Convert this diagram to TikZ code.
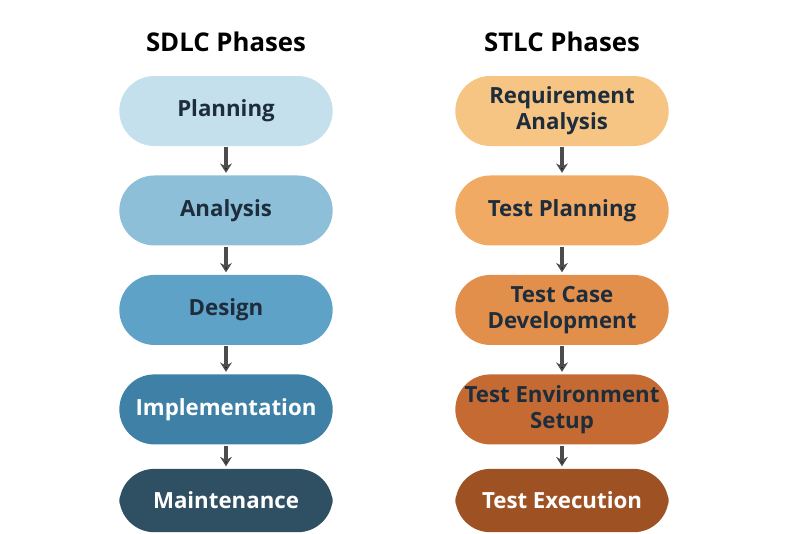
\documentclass[tikz,border=0pt]{standalone}
\usepackage{fontspec}
\setsansfont{Open Sans}
\usetikzlibrary{arrows.meta,positioning}
\definecolor{sd1}{RGB}{196,224,236}
\definecolor{sd2}{RGB}{141,192,216}
\definecolor{sd3}{RGB}{95,162,199}
\definecolor{sd4}{RGB}{62,128,166}
\definecolor{sd5}{RGB}{47,79,98}
\definecolor{st1}{RGB}{246,196,131}
\definecolor{st2}{RGB}{240,170,100}
\definecolor{st3}{RGB}{226,143,76}
\definecolor{st4}{RGB}{196,106,50}
\definecolor{st5}{RGB}{158,82,36}
\definecolor{txt}{RGB}{30,45,60}
\tikzstyle{phase}=[rounded corners=1.05cm, minimum width=6.4cm, minimum height=2.1cm, align=center, text=txt, font=\sffamily\bfseries\fontsize{19}{22}\selectfont]
\tikzstyle{title}=[font=\sffamily\bfseries\fontsize{22}{24}\selectfont, text=black]
\begin{document}
\begin{tikzpicture}[node distance=0.87cm,>={Stealth[length=8pt,width=10pt]}]
    \useasboundingbox (0,0) rectangle (24,-15.99);
    % SDLC
    \node [title] (sdlc) at (6.78,-1.26) {SDLC Phases};
    \node [phase, fill=sd1] (p) at (6.78,-3.33) {Planning};
    \node [phase, fill=sd2] (a) [below=of p] {Analysis};
    \node [phase, fill=sd3] (d) [below=of a] {Design};
    \node [phase, fill=sd4, text=white] (i) [below=of d] {Implementation};
    \node [phase, fill=sd5, text=white, minimum height=1.9cm] (m) [below=0.72cm of i] {Maintenance};
    % STLC
    \node [title] (stlc) at (16.86,-1.26) {STLC Phases};
    \node [phase, fill=st1] (r) at (16.86,-3.33) {Requirement\\Analysis};
    \node [phase, fill=st2] (tp) [below=of r] {Test Planning};
    \node [phase, fill=st3] (tc) [below=of tp] {Test Case\\Development};
    \node [phase, fill=st4] (te) [below=of tc] {Test Environment\\Setup};
    \node [phase, fill=st5, text=white, minimum height=1.9cm] (tx) [below=0.72cm of te] {Test Execution};
    \path[->, draw=black!70, line width=3pt, shorten <=1pt, shorten >=2pt]
    (p) edge (a)
    (a) edge (d)
    (d) edge (i)
    (i) edge (m)
    (r) edge (tp)
    (tp) edge (tc)
    (tc) edge (te)
    (te) edge (tx);
\end{tikzpicture}
\end{document}
